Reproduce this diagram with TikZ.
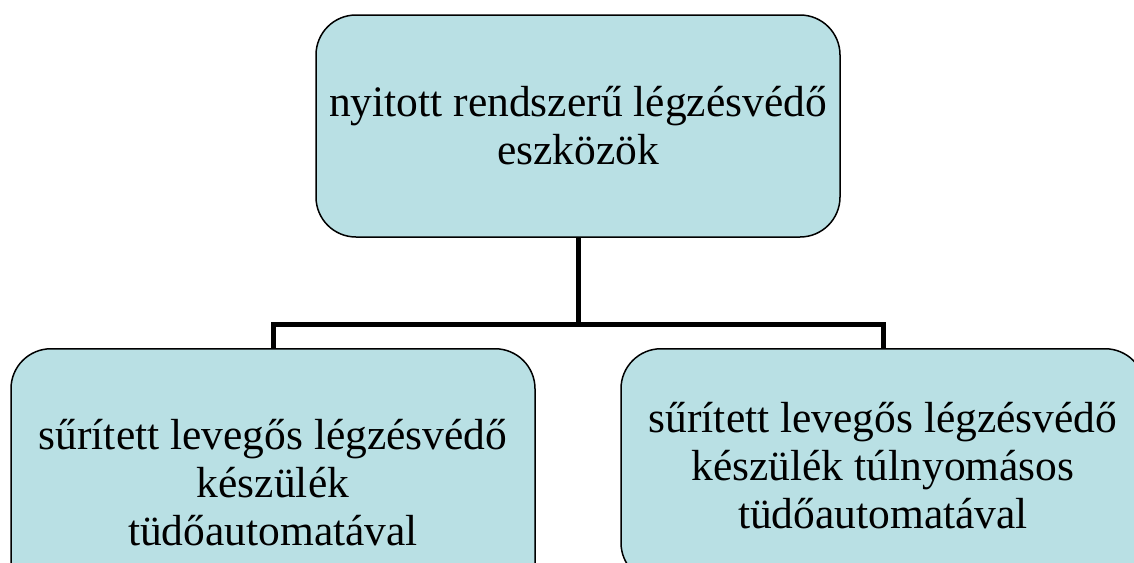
\documentclass[tikz,border=0pt]{standalone}
\usepackage{fontspec}
\setmainfont{Liberation Serif}
\usepackage{tikz}
\usetikzlibrary{calc}

\definecolor{boxblue}{RGB}{185,224,228}

\begin{document}
\begin{tikzpicture}[x=1pt,y=-1pt,
    treebox/.style={draw=black, line width=1.5pt, fill=boxblue,
      rounded corners=40pt, minimum width=524pt, inner sep=0pt,
      align=center, font=\fontsize{43.5}{48}\selectfont},
    branch/.style={line width=5pt, line join=miter}]
  \useasboundingbox (0,0) rectangle (1134,562);
  \clip (0,0) rectangle (1134,562);

  %% Top of the tree
  \node[treebox, minimum height=222pt] (TOP) at (578,126)
    {nyitott rendszerű légzésvédő\\eszközök};

  %% The two leaves (they run past the page edge)
  \node[treebox, minimum height=268pt, anchor=north] (LEFT) at (273,348)
    {sűrített levegős légzésvédő\\készülék\\tüdőautomatával};
  \node[treebox, minimum height=234pt, anchor=north] (RIGHT) at (883,348)
    {sűrített levegős légzésvédő\\készülék túlnyomásos\\tüdőautomatával};

  %% Connectors
  \coordinate (BUS) at ($(TOP.south)+(0,87)$);
  \draw[branch] (TOP.south) -- (BUS);
  \draw[branch] (LEFT.north) |- (BUS) -| (RIGHT.north);

\end{tikzpicture}
\end{document}
